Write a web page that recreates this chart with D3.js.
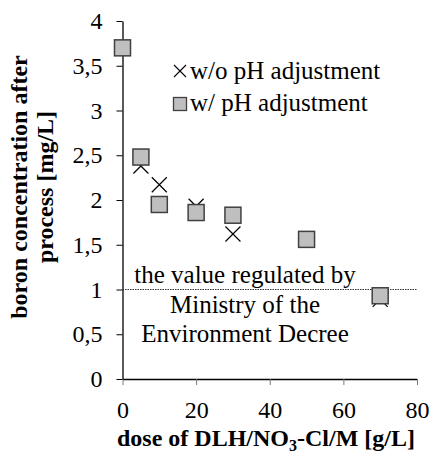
<!DOCTYPE html>
<html>
<head>
<meta charset="utf-8">
<script src="https://cdn.jsdelivr.net/npm/d3@7"></script>
<style>
  body { margin: 0; background: #fff; }
  svg text { font-family: "Liberation Serif", "Times New Roman", serif; }
</style>
</head>
<body>
<div id="chart"></div>
<script>
// dose [g/L]
const doses = [0, 5, 10, 20, 30, 50, 70];
const withoutPH = [3.7, 2.38, 2.17, 1.93, 1.62, 1.56, 0.89];
const withPH = [3.7, 2.48, 1.95, 1.86, 1.83, 1.56, 0.93];
const xTicks = [0, 20, 40, 60, 80];
const yTicks = [0, 0.5, 1, 1.5, 2, 2.5, 3, 3.5, 4];
const limitValue = 1;
const limitLabel = ['the value regulated by', 'Ministry of the', 'Environment Decree'];
const legendLabels = ['w/o pH adjustment', 'w/ pH adjustment'];

const width = 433, height = 455;
const x = d3.scaleLinear().domain([0, 80]).range([122.5, 417]);
const y = d3.scaleLinear().domain([0, 4]).range([379, 21]);
const fmt = d => String(d).replace('.', ',');

const svg = d3.select('#chart').append('svg')
    .attr('width', width)
    .attr('height', height)
    .attr('font-family', '"Liberation Serif", serif');

// axes
const gx = svg.append('g')
    .attr('transform', `translate(0,${y(0)})`)
    .call(d3.axisBottom(x).tickValues(xTicks).tickSize(6).tickPadding(10).tickSizeOuter(0));
const gy = svg.append('g')
    .attr('transform', `translate(${x(0)},0)`)
    .call(d3.axisLeft(y).tickValues(yTicks).tickFormat(fmt).tickSize(6).tickPadding(14).tickSizeOuter(0));

[gx, gy].forEach(g => {
  g.attr('font-family', '"Liberation Serif", serif').attr('font-size', 24);
  g.select('.domain').attr('stroke', '#000').attr('stroke-width', 1.3);
  g.selectAll('.tick line').attr('stroke', '#000').attr('stroke-width', 1);
  g.selectAll('.tick text').attr('fill', '#000');
});
gx.selectAll('.tick line').attr('stroke', '#777');
gx.selectAll('.tick text').attr('dy', '0.95em');

// regulated value line
svg.append('line')
    .attr('x1', x(0)).attr('x2', x(80))
    .attr('y1', y(limitValue)).attr('y2', y(limitValue))
    .attr('stroke', '#333')
    .attr('stroke-width', 1.2)
    .attr('stroke-dasharray', '1.5,1');

svg.append('g')
  .selectAll('text')
  .data(limitLabel)
  .join('text')
    .attr('x', 245)
    .attr('y', (d, i) => 283 + i * 29.5)
    .attr('text-anchor', 'middle')
    .attr('font-size', 25)
    .text(d => d);

// crosses (w/o pH adjustment)
const cs = 7.5;
svg.append('g')
    .attr('stroke', '#000')
    .attr('stroke-width', 1.2)
  .selectAll('path')
  .data(doses.map((d, i) => [d, withoutPH[i]]))
  .join('path')
    .attr('d', d => {
      const cx = x(d[0]), cy = y(d[1]);
      return `M${cx - cs},${cy - cs}L${cx + cs},${cy + cs}M${cx - cs},${cy + cs}L${cx + cs},${cy - cs}`;
    });

// squares (w/ pH adjustment)
const sq = 16;
svg.append('g')
  .selectAll('rect')
  .data(doses.map((d, i) => [d, withPH[i]]))
  .join('rect')
    .attr('x', d => x(d[0]) - sq / 2)
    .attr('y', d => y(d[1]) - sq / 2)
    .attr('width', sq)
    .attr('height', sq)
    .attr('fill', '#bfbfbf')
    .attr('stroke', '#404040')
    .attr('stroke-width', 1.5);

// legend
const lg = svg.append('g');
lg.append('path')
    .attr('d', 'M174,65L186,77M174,77L186,65')
    .attr('stroke', '#000')
    .attr('stroke-width', 1.1);
lg.append('rect')
    .attr('x', 173.5).attr('y', 97.5)
    .attr('width', 13).attr('height', 13)
    .attr('fill', '#bfbfbf')
    .attr('stroke', '#404040')
    .attr('stroke-width', 1.3);
lg.selectAll('text')
  .data(legendLabels)
  .join('text')
    .attr('x', 190)
    .attr('y', (d, i) => 79 + i * 32)
    .attr('font-size', 25)
    .text(d => d);

// axis titles
const yt = svg.append('text')
    .attr('transform', 'translate(0,187) rotate(-90)')
    .attr('text-anchor', 'middle')
    .attr('font-size', 24)
    .attr('font-weight', 'bold');
yt.append('tspan').attr('x', 0).attr('y', 27).text('boron concentration after');
yt.append('tspan').attr('x', 0).attr('y', 53).text('process [mg/L]');

const xt = svg.append('text')
    .attr('x', 266)
    .attr('y', 446)
    .attr('text-anchor', 'middle')
    .attr('font-size', 24)
    .attr('font-weight', 'bold');
xt.append('tspan').text('dose of DLH/NO');
xt.append('tspan').attr('dy', 5).attr('font-size', 16).text('3');
xt.append('tspan').attr('dy', -5).text('-Cl/M [g/L]');
</script>
</body>
</html>
